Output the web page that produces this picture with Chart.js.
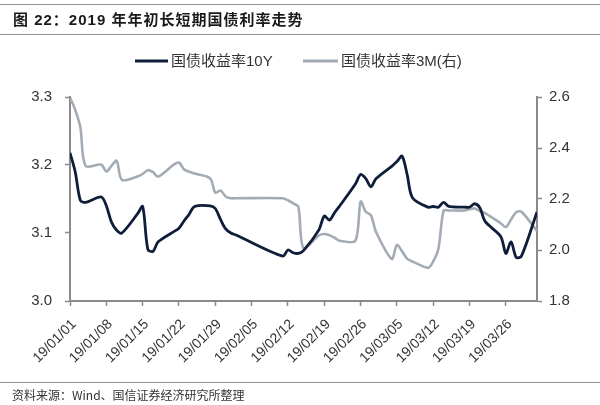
<!DOCTYPE html>
<html><head><meta charset="utf-8">
<script src="https://cdn.jsdelivr.net/npm/chart.js@4"></script>
<style>
html,body{margin:0;padding:0;background:#fff;}
#wrap{position:relative;width:600px;height:405px;overflow:hidden;background:#fff;}
canvas{position:absolute;left:0;top:0;}
.hline{position:absolute;left:0;width:600px;height:0;border-top:1.5px solid #8f8f8f;}
#title{position:absolute;left:13px;top:10px;font:bold 15px "Liberation Sans","Noto Sans CJK SC",sans-serif;color:#1a1a1a;letter-spacing:1px;line-height:20px;white-space:nowrap;}
#source{position:absolute;left:12px;top:387px;font:12px "Noto Sans CJK SC",sans-serif;color:#333;line-height:16px;white-space:nowrap;}
</style></head>
<body><div id="wrap">
<canvas id="c" width="600" height="405"></canvas>
<div class="hline" style="top:4px"></div>
<div id="title">图 22：2019 年年初长短期国债利率走势</div>
<div class="hline" style="top:34px"></div>
<div class="hline" style="top:382px"></div>
<div id="source">资料来源：Wind、国信证券经济研究所整理</div>
</div>
<script>
// ---- data ----
const dates = [
 '01-01','01-02','01-03','01-04','01-07','01-08','01-09','01-10','01-11',
 '01-14','01-15','01-16','01-17','01-18','01-21','01-22','01-23','01-24','01-25',
 '01-28','01-29','01-30','01-31','02-01','02-02',
 '02-11','02-12','02-13','02-14','02-15','02-18','02-19','02-20','02-21','02-22',
 '02-25','02-26','02-27','02-28','03-01','03-04','03-05','03-06','03-07','03-08',
 '03-11','03-12','03-13','03-14','03-15','03-18','03-19','03-20','03-21','03-22',
 '03-25','03-26','03-27','03-28','03-29','04-01'
];
const yield10Y = [
 3.218,3.190,3.148,3.145,3.153,3.140,3.116,3.104,3.100,
 3.128,3.139,3.076,3.073,3.087,3.102,3.107,3.118,3.128,3.139,
 3.140,3.136,3.120,3.106,3.100,3.097,
 3.066,3.075,3.071,3.070,3.074,3.105,3.125,3.119,3.130,3.140,
 3.172,3.186,3.180,3.168,3.180,3.198,3.205,3.213,3.185,3.152,
 3.138,3.139,3.138,3.145,3.139,3.138,3.138,3.143,3.137,3.117,
 3.095,3.070,3.087,3.064,3.066,3.131
];
const yield3M = [
 2.598,2.550,2.480,2.330,2.335,2.308,2.330,2.350,2.275,
 2.288,2.298,2.313,2.305,2.288,2.335,2.343,2.316,2.307,2.300,
 2.281,2.225,2.233,2.210,2.203,2.203,
 2.203,2.195,2.183,2.170,2.007,2.058,2.063,2.058,2.048,2.036,
 2.037,2.190,2.150,2.136,2.070,1.965,2.020,1.995,1.965,1.955,
 1.930,1.955,2.005,2.155,2.155,2.155,2.160,2.163,2.152,2.145,
 2.105,2.090,2.120,2.148,2.150,2.075
];
const xTickLabels = ['19/01/01','19/01/08','19/01/15','19/01/22','19/01/29','19/02/05',
 '19/02/12','19/02/19','19/02/26','19/03/05','19/03/12','19/03/19','19/03/26'];
const seriesNames = ['国债收益率10Y','国债收益率3M(右)'];
const seriesColors = ['#0e1d3a','#a3acb5'];
const leftRange = [3.0, 3.3, 0.1];
const rightRange = [1.8, 2.6, 0.2];

// ---- helpers ----
const t0 = Date.UTC(2019,0,1);
function dayIndex(s){const p=s.split('-').map(Number);return Math.round((Date.UTC(2019,p[0]-1,p[1])-t0)/86400000);}
const pts10 = dates.map((d,i)=>({x:dayIndex(d),y:yield10Y[i]}));
const pts3 = dates.map((d,i)=>({x:dayIndex(d),y:yield3M[i]}));

const tickFont = {family:'"Liberation Sans", Arial, sans-serif', size:15};
const axisColor = '#8a8a8a';

const legendPlugin = {
  id:'refLegend',
  afterDraw(chart){
    const ctx = chart.ctx;
    const pos = [[135,168,171],[303,338,341]];
    const y = 61;
    ctx.save();
    ctx.font = '15px "Liberation Sans","Noto Sans CJK SC",sans-serif';
    ctx.textBaseline = 'middle';
    chart.data.datasets.forEach((ds,i)=>{
      const p = pos[i];
      ctx.strokeStyle = ds.borderColor; ctx.lineWidth = 3;
      ctx.beginPath(); ctx.moveTo(p[0],y); ctx.lineTo(p[1],y); ctx.stroke();
      ctx.fillStyle = '#333';
      ctx.fillText(ds.label, p[2], y+1);
    });
    ctx.restore();
  }
};

new Chart(document.getElementById('c'), {
  type:'line',
  data:{datasets:[
    {label:seriesNames[0],data:pts10,yAxisID:'y',borderColor:seriesColors[0],borderWidth:2.8,pointRadius:0,tension:0.3,fill:false},
    {label:seriesNames[1],data:pts3,yAxisID:'y1',borderColor:seriesColors[1],borderWidth:2.6,pointRadius:0,tension:0.3,fill:false}
  ]},
  options:{
    responsive:false, animation:false, devicePixelRatio:1,
    layout:{padding:{top:97,left:0,right:0,bottom:0}},
    plugins:{legend:{display:false},tooltip:{enabled:false},title:{display:false}},
    scales:{
      x:{type:'linear',min:0,max:90,
        afterFit:(s)=>{s.height=104;},
        grid:{drawOnChartArea:false,drawTicks:true,tickLength:5,tickColor:axisColor,tickWidth:1.5},
        border:{display:true,color:axisColor,width:2},
        ticks:{stepSize:7,includeBounds:false,autoSkip:false,maxRotation:45,minRotation:45,
          padding:10,labelOffset:4,color:'#333',font:{family:tickFont.family,size:14},
          callback:(v)=>xTickLabels[Math.round(v/7)]||''}
      },
      y:{position:'left',min:leftRange[0],max:leftRange[1],
        afterFit:(s)=>{s.width=70;},
        grid:{drawOnChartArea:false,tickLength:5,tickColor:axisColor,tickWidth:1.5},
        border:{display:true,color:axisColor,width:2},
        ticks:{stepSize:leftRange[2],padding:13,color:'#333',font:tickFont,callback:(v)=>Number(v).toFixed(1)}
      },
      y1:{position:'right',min:rightRange[0],max:rightRange[1],
        afterFit:(s)=>{s.width=63;},
        grid:{drawOnChartArea:false,tickLength:5,tickColor:axisColor,tickWidth:1.5},
        border:{display:true,color:axisColor,width:2},
        ticks:{stepSize:rightRange[2],padding:7,color:'#333',font:tickFont,callback:(v)=>Number(v).toFixed(1)}
      }
    }
  },
  plugins:[legendPlugin]
});
</script>
</body></html>
